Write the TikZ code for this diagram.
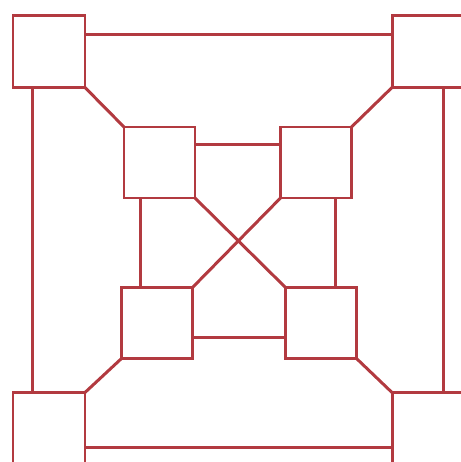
\documentclass[tikz,border=0pt]{standalone}
\usepackage{xcolor}
\usepackage{tikz}
\usetikzlibrary{calc}
\definecolor{gridred}{RGB}{178, 58, 64}

\begin{document}
\begin{tikzpicture}[
    outerbox/.style={rectangle, draw=gridred, line width=1.7pt, inner sep=0pt,
                     outer sep=0pt, minimum size=1.44cm},
    innerbox/.style={rectangle, draw=gridred, line width=1.7pt, inner sep=0pt,
                     outer sep=0pt, minimum size=1.42cm},
    link/.style={gridred, line width=1.7pt}
]
    \useasboundingbox (0,0) rectangle (9.22,9.24);
    \clip (0,0) rectangle (9.22,9.24);

    % Carres exterieurs
    \node[outerbox] (otl) at (0.98,8.21) {};
    \node[outerbox] (otr) at (8.56,8.21) {};
    \node[outerbox] (obl) at (0.98,0.67) {};
    \node[outerbox] (obr) at (8.56,0.67) {};

    % Carres interieurs
    \node[innerbox] (itl) at (3.19,5.99) {};
    \node[innerbox] (itr) at (6.32,5.99) {};
    \node[innerbox] (ibl) at (3.14,2.78) {};
    \node[innerbox] (ibr) at (6.42,2.78) {};

    % Points d'attache
    \coordinate (ot) at ($(otl.north east)!0.26!(otl.south east)$);
    \coordinate (ob) at ($(obl.north east)!0.76!(obl.south east)$);
    \coordinate (ol) at ($(otl.south west)!0.27!(otl.south east)$);
    \coordinate (or) at ($(otr.south west)!0.72!(otr.south east)$);
    \coordinate (it) at ($(itl.north east)!0.24!(itl.south east)$);
    \coordinate (ib) at ($(ibl.north east)!0.71!(ibl.south east)$);
    \coordinate (il) at ($(itl.south west)!0.23!(itl.south east)$);
    \coordinate (ir) at ($(itr.south west)!0.77!(itr.south east)$);

    % Liaisons exterieures
    \draw[link] (ot) -- (ot -| otr.west);
    \draw[link] (ob) -- (ob -| obr.west);
    \draw[link] (ol) -- (ol |- obl.north);
    \draw[link] (or) -- (or |- obr.north);

    % Liaisons interieures
    \draw[link] (it) -- (it -| itr.west);
    \draw[link] (ib) -- (ib -| ibr.west);
    \draw[link] (il) -- (il |- ibl.north);
    \draw[link] (ir) -- (ir |- ibr.north);

    % Diagonales
    \draw[link] (otl.south east) -- (itl.north west);
    \draw[link] (otr.south west) -- (itr.north east);
    \draw[link] (obl.north east) -- (ibl.south west);
    \draw[link] (obr.north west) -- (ibr.south east);
    \draw[link] (itl.south east) -- (ibr.north west);
    \draw[link] (itr.south west) -- (ibl.north east);
\end{tikzpicture}
\end{document}
